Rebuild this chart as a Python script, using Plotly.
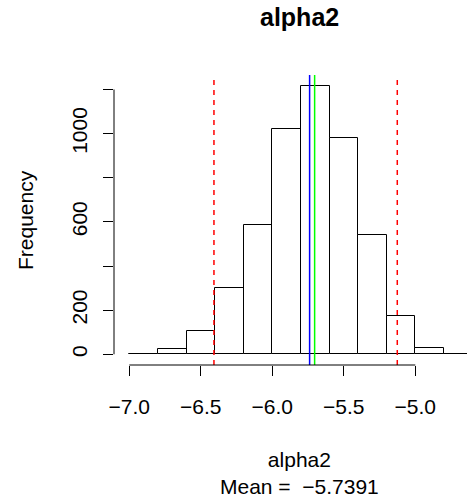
import plotly.graph_objects as go

# Histogram data (bins of width 0.2 starting at -7.0)
bin_start = -7.0
bin_width = 0.2
counts = [3, 26, 104, 299, 587, 1021, 1217, 982, 541, 173, 27, 3]

# Reference lines
ci_lower = -6.408
ci_upper = -5.126
mean_val = -5.7391
median_val = -5.704

x_tickvals = [-7.0, -6.5, -6.0, -5.5, -5.0]
x_ticktext = ["\u22127.0", "\u22126.5", "\u22126.0", "\u22125.5", "\u22125.0"]
y_tickvals = [0, 200, 400, 600, 800, 1000, 1200]
y_ticktext = ["0", "200", "", "600", "", "1000", ""]

title_text = "alpha2"
xlab_text = "alpha2<br>Mean =\u00a0 \u22125.7391"
ylab_text = "Frequency"

centers = [bin_start + bin_width * (i + 0.5) for i in range(len(counts))]

W, H = 467, 504
L, R, T, B = 114, 0, 75, 139
px_per_unit = 143.0
x0 = -7.107
xr = [x0, x0 + (W - L - R) / px_per_unit]
ymax = max(counts)
yr = [-0.04 * ymax, 1.04 * ymax]

FONT = "Liberation Sans, Arial, sans-serif"

fig = go.Figure()
fig.add_trace(go.Bar(
    x=centers, y=counts, width=bin_width,
    marker=dict(color="white", line=dict(color="black", width=1)),
    hoverinfo="skip", showlegend=False,
))

shapes = []
for xv, col, dash in [(ci_lower, "#FF0000", "5px,5px"), (ci_upper, "#FF0000", "5px,5px"),
                      (mean_val, "#0000FF", "solid"), (median_val, "#00FF00", "solid")]:
    shapes.append(dict(type="line", xref="x", yref="paper", x0=xv, x1=xv, y0=0, y1=1,
                       line=dict(color=col, width=1.5, dash=dash), layer="above"))
# axis lines spanning only the tick range (R style)
shapes.append(dict(type="line", xref="x", yref="paper", x0=x_tickvals[0], x1=x_tickvals[-1],
                   y0=0, y1=0, line=dict(color="black", width=1)))
shapes.append(dict(type="line", xref="paper", yref="y", x0=0, x1=0,
                   y0=y_tickvals[0], y1=y_tickvals[-1], line=dict(color="black", width=1)))

pw = W - L - R
ph = H - T - B
def px_x(p):
    return (p - L) / pw
def px_y(p):
    return (H - B - p) / ph

annotations = [
    dict(text="<b>" + title_text + "</b>", xref="paper", yref="paper",
         x=px_x(299), y=px_y(17), xanchor="center", yanchor="middle", showarrow=False,
         font=dict(family=FONT, size=25, color="black")),
    dict(text=xlab_text, xref="paper", yref="paper",
         x=px_x(299), y=px_y(473), xanchor="center", yanchor="middle", showarrow=False,
         font=dict(family=FONT, size=21, color="black")),
    dict(text=ylab_text, xref="paper", yref="paper", textangle=-90,
         x=px_x(25), y=px_y(220), xanchor="center", yanchor="middle", showarrow=False,
         font=dict(family=FONT, size=21, color="black")),
]

fig.update_layout(
    width=W, height=H,
    margin=dict(l=L, r=R, t=T, b=B, pad=0),
    paper_bgcolor="white", plot_bgcolor="white",
    bargap=0, showlegend=False,
    shapes=shapes, annotations=annotations,
    xaxis=dict(range=xr, tickmode="array", tickvals=x_tickvals, ticktext=x_ticktext,
               ticks="outside", ticklen=10, tickwidth=1, tickcolor="black",
               showgrid=False, zeroline=False, showline=False,
               tickfont=dict(family=FONT, size=21, color="black"),
               ticklabelstandoff=13),
    yaxis=dict(range=yr, tickmode="array", tickvals=y_tickvals, ticktext=y_ticktext,
               ticks="outside", ticklen=10, tickwidth=1, tickcolor="black",
               tickangle=-90,
               showgrid=False, zeroline=False, showline=False,
               tickfont=dict(family=FONT, size=21, color="black"),
               ticklabelstandoff=8),
)

fig.write_html("out.html", config={"displayModeBar": False},
               post_script="document.body.style.margin='0';document.body.style.overflow='hidden';")
